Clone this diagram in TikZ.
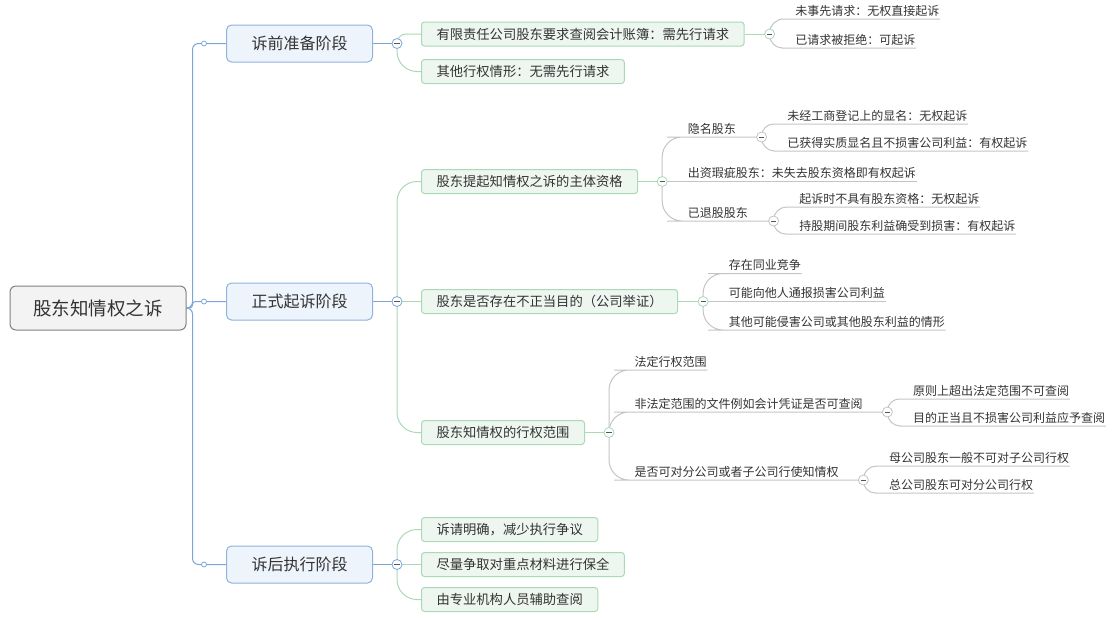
\documentclass[tikz,border=0pt]{standalone}
\usepackage{fontspec}
\setmainfont{Noto Sans CJK SC}
\usetikzlibrary{calc}
\definecolor{txt}{HTML}{333333}
\definecolor{rootline}{HTML}{808080}
\definecolor{rootfill}{HTML}{F3F3F3}
\definecolor{l1line}{HTML}{8FB2DF}
\definecolor{l1fill}{HTML}{EEF4FC}
\definecolor{l2line}{HTML}{A9D9B5}
\definecolor{l2fill}{HTML}{EEF6F0}
\definecolor{blueline}{HTML}{7AA6DA}
\definecolor{greenline}{HTML}{A9D9B5}
\definecolor{grayline}{HTML}{C4C4C4}
\definecolor{minuscol}{HTML}{555555}
\pgfdeclarelayer{bg}
\pgfsetlayers{bg,main}
\tikzset{
  rootbox/.style={draw=rootline, fill=rootfill, rounded corners=6pt, line width=1pt,
    minimum width=176pt, minimum height=44pt, text=txt, font=\fontsize{18.5}{20}\selectfont},
  l1box/.style={draw=l1line, fill=l1fill, rounded corners=5pt, line width=1pt, anchor=west,
    minimum width=146pt, minimum height=37pt, text=txt, font=\fontsize{16}{18}\selectfont},
  l2box/.style={draw=l2line, fill=l2fill, rounded corners=3pt, line width=1pt, anchor=west,
    minimum height=24pt, inner xsep=15pt, text=txt, font=\fontsize{13.3}{15}\selectfont},
  leaf/.style={anchor=south west, inner xsep=0.5pt, inner ysep=0pt, text height=9pt,
    text depth=3.5pt, text=txt, font=\fontsize{12}{14}\selectfont},
  mbtn/.style={circle, draw=#1, fill=white, line width=0.8pt, minimum size=10pt, inner sep=0pt,
    path picture={\draw[minuscol, line width=0.9pt]
      ([xshift=-2.6pt]path picture bounding box.center) -- ([xshift=2.6pt]path picture bounding box.center);}},
  tdot/.style={circle, draw=blueline, fill=white, minimum size=5pt, inner sep=0pt, line width=0.8pt},
  bl/.style={draw=blueline, line width=1pt},
  gl/.style={draw=greenline, line width=1pt},
  yl/.style={draw=grayline, line width=1pt},
}
\begin{document}
\begin{tikzpicture}[x=1pt,y=-1pt]
\useasboundingbox (0,0) rectangle (1114,619);
% root and level 1
\node[rootbox] (root) at (98,308) {股东知情权之诉};
\node[l1box] (A) at (226,43.5) {诉前准备阶段};
\node[l1box] (B) at (226,301.5) {正式起诉阶段};
\node[l1box] (C) at (226,564.5) {诉后执行阶段};
\node[tdot] (dA) at (204,43.5) {};
\node[tdot] (dB) at (204,301.5) {};
\node[tdot] (dC) at (204,564.5) {};
\node[mbtn=blueline] (mA) at ([xshift=24pt]A.east) {};
\node[mbtn=blueline] (mB) at ([xshift=24pt]B.east) {};
\node[mbtn=blueline] (mC) at ([xshift=24pt]C.east) {};
% level 2
\node[l2box] (A1) at (421,34) {有限责任公司股东要求查阅会计账簿：需先行请求};
\node[l2box] (A2) at (421,71.5) {其他行权情形：无需先行请求};
\node[l2box] (B1) at (421,181.5) {股东提起知情权之诉的主体资格};
\node[l2box] (B2) at (421,301.5) {股东是否存在不正当目的（公司举证）};
\node[l2box] (B3) at (421,432.5) {股东知情权的行权范围};
\node[l2box] (C1) at (421,529.5) {诉请明确，减少执行争议};
\node[l2box] (C2) at (421,564.5) {尽量争取对重点材料进行保全};
\node[l2box] (C3) at (421,599.5) {由专业机构人员辅助查阅};
\node[mbtn=greenline] (mA1) at ([xshift=25pt]A1.east) {};
\node[mbtn=greenline] (mB1) at ([xshift=24pt]B1.east) {};
\node[mbtn=greenline] (mB2) at ([xshift=25pt]B2.east) {};
\node[mbtn=greenline] (mB3) at ([xshift=24pt]B3.east) {};
% leaves of A1
\node[leaf] (a11) at ($(mA1.center |- 0,19)+(25,0)$) {未事先请求：无权直接起诉};
\node[leaf] (a12) at ($(mA1.center |- 0,48)+(25,0)$) {已请求被拒绝：可起诉};
% leaves of B1
\node[leaf] (b11) at ($(mB1.center |- 0,137)+(25,0)$) {隐名股东};
\node[leaf] (b12) at ($(mB1.center |- 0,181.5)+(25,0)$) {出资瑕疵股东：未失去股东资格即有权起诉};
\node[leaf] (b13) at ($(mB1.center |- 0,221)+(25,0)$) {已退股股东};
\node[mbtn=grayline] (mb11) at ($(b11.south east)+(25,0)$) {};
\node[mbtn=grayline] (mb13) at ($(b13.south east)+(25,0)$) {};
\node[leaf] (b111) at ($(mb11.center |- 0,124)+(25,0)$) {未经工商登记上的显名：无权起诉};
\node[leaf] (b112) at ($(mb11.center |- 0,151)+(25,0)$) {已获得实质显名且不损害公司利益：有权起诉};
\node[leaf] (b131) at ($(mb13.center |- 0,207)+(25,0)$) {起诉时不具有股东资格：无权起诉};
\node[leaf] (b132) at ($(mb13.center |- 0,234)+(25,0)$) {持股期间股东利益确受到损害：有权起诉};
% leaves of B2
\node[leaf] (b21) at ($(mB2.center |- 0,273.5)+(25,0)$) {存在同业竞争};
\node[leaf] (b22) at ($(mB2.center |- 0,301.5)+(25,0)$) {可能向他人通报损害公司利益};
\node[leaf] (b23) at ($(mB2.center |- 0,330)+(25,0)$) {其他可能侵害公司或其他股东利益的情形};
% leaves of B3
\node[leaf] (b31) at ($(mB3.center |- 0,370)+(25,0)$) {法定行权范围};
\node[leaf] (b32) at ($(mB3.center |- 0,412)+(25,0)$) {非法定范围的文件例如会计凭证是否可查阅};
\node[leaf] (b33) at ($(mB3.center |- 0,480)+(25,0)$) {是否可对分公司或者子公司行使知情权};
\node[mbtn=grayline] (mb32) at ($(b32.south east)+(24,0)$) {};
\node[mbtn=grayline] (mb33) at ($(b33.south east)+(24,0)$) {};
\node[leaf] (b321) at ($(mb32.center |- 0,399)+(25,0)$) {原则上超出法定范围不可查阅};
\node[leaf] (b322) at ($(mb32.center |- 0,426)+(25,0)$) {目的正当且不损害公司利益应予查阅};
\node[leaf] (b331) at ($(mb33.center |- 0,466)+(25,0)$) {母公司股东一般不可对子公司行权};
\node[leaf] (b332) at ($(mb33.center |- 0,493)+(25,0)$) {总公司股东可对分公司行权};
% connectors
\begin{pgfonlayer}{bg}
\draw[bl, rounded corners=6pt] (root.east) -- ++(6,0) |- (dA.center) -- (A.west);
\draw[bl, rounded corners=3pt] (root.east) -- ++(6,0) |- (dB.center) -- (B.west);
\draw[bl, rounded corners=6pt] (root.east) -- ++(6,0) |- (dC.center) -- (C.west);
\draw[bl] (A.east) -- (mA.center);
\draw[bl] (B.east) -- (mB.center);
\draw[bl] (C.east) -- (mC.center);
\draw[gl, rounded corners=9pt] (mA.center) |- (A1.west);
\draw[gl, rounded corners=20pt] (mA.center) |- (A2.west);
\draw[gl, rounded corners=20pt] (mB.center) |- (B1.west);
\draw[gl] (mB.center) -- (B2.west);
\draw[gl, rounded corners=20pt] (mB.center) |- (B3.west);
\draw[gl, rounded corners=20pt] (mC.center) |- (C1.west);
\draw[gl] (mC.center) -- (C2.west);
\draw[gl, rounded corners=20pt] (mC.center) |- (C3.west);
\draw[gl] (A1.east) -- (mA1.center);
\draw[gl] (B1.east) -- (mB1.center);
\draw[gl] (B2.east) -- (mB2.center);
\draw[gl] (B3.east) -- (mB3.center);
% leaf lines
\draw[yl, rounded corners=14pt] (mA1.center) |- (a11.south west) -- (a11.south east);
\draw[yl, rounded corners=13pt] (mA1.center) |- (a12.south west) -- (a12.south east);
\draw[yl, rounded corners=20pt] (mB1.center) |- (b11.south west) -- (mb11.center);
\draw[yl] (mB1.center) -- (b12.south west) -- (b12.south east);
\draw[yl, rounded corners=20pt] (mB1.center) |- (b13.south west) -- (mb13.center);
\draw[yl, rounded corners=12pt] (mb11.center) |- (b111.south west) -- (b111.south east);
\draw[yl, rounded corners=13pt] (mb11.center) |- (b112.south west) -- (b112.south east);
\draw[yl, rounded corners=13pt] (mb13.center) |- (b131.south west) -- (b131.south east);
\draw[yl, rounded corners=12pt] (mb13.center) |- (b132.south west) -- (b132.south east);
\draw[yl, rounded corners=20pt] (mB2.center) |- (b21.south west) -- (b21.south east);
\draw[yl] (mB2.center) -- (b22.south west) -- (b22.south east);
\draw[yl, rounded corners=20pt] (mB2.center) |- (b23.south west) -- (b23.south east);
\draw[yl, rounded corners=20pt] (mB3.center) |- (b31.south west) -- (b31.south east);
\draw[yl, rounded corners=20pt] (mB3.center) |- (b32.south west) -- (mb32.center);
\draw[yl, rounded corners=20pt] (mB3.center) |- (b33.south west) -- (mb33.center);
\draw[yl, rounded corners=12pt] (mb32.center) |- (b321.south west) -- (b321.south east);
\draw[yl, rounded corners=13pt] (mb32.center) |- (b322.south west) -- (b322.south east);
\draw[yl, rounded corners=13pt] (mb33.center) |- (b331.south west) -- (b331.south east);
\draw[yl, rounded corners=12pt] (mb33.center) |- (b332.south west) -- (b332.south east);
\end{pgfonlayer}
\end{tikzpicture}
\end{document}
